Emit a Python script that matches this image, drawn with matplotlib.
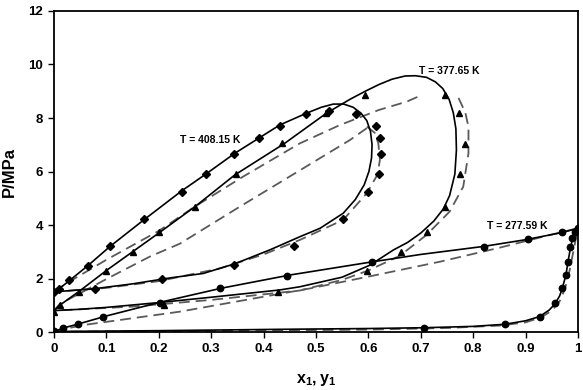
import matplotlib
matplotlib.use("Agg")
import matplotlib.pyplot as plt

plt.rcParams['font.family'] = ['Liberation Sans', 'DejaVu Sans']
plt.rcParams['mathtext.fontset'] = 'custom'
plt.rcParams['mathtext.bf'] = 'Liberation Sans:bold'
plt.rcParams['mathtext.rm'] = 'Liberation Sans'

# ---------------- T = 277.59 K ----------------
exp277_bub_x = [0, 0.018, 0.046, 0.094, 0.202, 0.317, 0.444, 0.607, 0.821, 0.905, 0.970, 1.0]
exp277_bub_p = [0.02, 0.16, 0.31, 0.57, 1.10, 1.63, 2.10, 2.63, 3.19, 3.47, 3.73, 3.88]
exp277_dew_y = [0.706, 0.861, 0.927, 0.956, 0.970, 0.977, 0.980, 0.985, 0.988, 0.994]
exp277_dew_p = [0.16, 0.29, 0.57, 1.07, 1.63, 2.13, 2.63, 3.19, 3.50, 3.75]

m1_277_bub_x = [0, 0.02, 0.05, 0.1, 0.2, 0.32, 0.45, 0.6, 0.7, 0.82, 0.9, 0.97, 1.0]
m1_277_bub_p = [0.02, 0.16, 0.32, 0.6, 1.1, 1.64, 2.13, 2.6, 2.9, 3.2, 3.45, 3.72, 3.88]
m1_277_dew_y = [0, 0.2, 0.43, 0.6, 0.706, 0.8, 0.861, 0.9, 0.927, 0.945, 0.956, 0.965,
                0.97, 0.977, 0.981, 0.986, 0.99, 0.995, 1.0]
m1_277_dew_p = [0.02, 0.05, 0.1, 0.13, 0.16, 0.21, 0.29, 0.42, 0.58, 0.82, 1.05, 1.35,
                1.63, 2.13, 2.63, 3.19, 3.5, 3.72, 3.88]
m2_277_bub_x = [0, 0.056, 0.24, 0.489, 0.6, 0.737, 0.85, 0.947, 1.0]
m2_277_bub_p = [0.03, 0.26, 0.76, 1.63, 2.07, 2.63, 3.15, 3.63, 3.88]
m2_277_dew_y = [0, 0.3, 0.6, 0.75, 0.85, 0.9, 0.93, 0.95, 0.965, 0.975, 0.984, 0.99, 0.996, 1.0]
m2_277_dew_p = [0.01, 0.04, 0.09, 0.15, 0.24, 0.36, 0.55, 0.8, 1.15, 1.6, 2.3, 2.9, 3.5, 3.88]

# ---------------- T = 377.65 K ----------------
exp377_bub_x = [0, 0.011, 0.048, 0.099, 0.151, 0.201, 0.269, 0.347, 0.436, 0.519, 0.594]
exp377_bub_p = [0.75, 1.0, 1.51, 2.28, 3.0, 3.75, 4.69, 5.9, 7.05, 8.18, 8.86]
exp377_dew_y = [0.209, 0.428, 0.597, 0.663, 0.711, 0.747, 0.775, 0.784, 0.773, 0.747]
exp377_dew_p = [1.01, 1.51, 2.29, 3.0, 3.75, 4.68, 5.9, 7.03, 8.18, 8.86]

m1_377_x = [0, 0.011, 0.05, 0.1, 0.15, 0.2, 0.27, 0.345, 0.44, 0.52, 0.565, 0.594, 0.62, 0.645,
            0.67, 0.69, 0.711, 0.728, 0.742, 0.754, 0.762, 0.767, 0.768, 0.765, 0.755, 0.743,
            0.725, 0.70, 0.675, 0.648, 0.603, 0.55, 0.469, 0.43, 0.3, 0.2, 0.1, 0.05, 0]
m1_377_p = [0.8, 1.0, 1.55, 2.3, 3.0, 3.7, 4.7, 5.87, 7.05, 8.18, 8.7, 9.0, 9.25, 9.45,
            9.57, 9.58, 9.52, 9.35, 9.1, 8.7, 8.2, 7.6, 6.8, 5.9, 5.1, 4.6,
            4.15, 3.7, 3.35, 3.07, 2.5, 2.05, 1.69, 1.57, 1.3, 1.1, 0.92, 0.85, 0.8]
m2_377_bub_x = [0, 0.011, 0.05, 0.1, 0.183, 0.24, 0.355, 0.469, 0.565, 0.597]
m2_377_bub_p = [0.8, 1.05, 1.45, 1.98, 2.82, 3.3, 4.69, 6.04, 7.18, 7.62]
m2_377_dew_y = [0.772, 0.785, 0.791, 0.791, 0.781, 0.755, 0.711, 0.66, 0.6, 0.55, 0.469,
                0.3, 0.15, 0]
m2_377_dew_p = [8.75, 8.2, 7.67, 6.68, 5.43, 4.5, 3.63, 2.85, 2.3, 1.95, 1.55,
                1.2, 0.95, 0.8]

# ---------------- T = 408.15 K ----------------
exp408_bub_x = [0, 0.01, 0.029, 0.064, 0.107, 0.172, 0.244, 0.291, 0.344, 0.392, 0.431, 0.481, 0.525]
exp408_bub_p = [1.51, 1.6, 1.94, 2.47, 3.21, 4.21, 5.25, 5.92, 6.65, 7.26, 7.71, 8.15, 8.25]
exp408_dew_y = [0.078, 0.207, 0.344, 0.458, 0.551, 0.6, 0.621, 0.625, 0.623, 0.614, 0.576]
exp408_dew_p = [1.6, 1.97, 2.5, 3.23, 4.21, 5.25, 5.92, 6.65, 7.26, 7.7, 8.14]

m1_408_x = [0, 0.01, 0.03, 0.064, 0.107, 0.172, 0.244, 0.291, 0.345, 0.392, 0.431, 0.482,
            0.51, 0.533, 0.553, 0.571, 0.586, 0.597, 0.604, 0.607, 0.606, 0.601, 0.592,
            0.575, 0.552, 0.508, 0.469, 0.412, 0.345, 0.285, 0.221, 0.15, 0.078, 0]
m1_408_p = [1.5, 1.62, 1.93, 2.47, 3.2, 4.2, 5.28, 5.92, 6.68, 7.26, 7.74, 8.18,
            8.4, 8.52, 8.52, 8.4, 8.18, 7.9, 7.5, 7.0, 6.5, 6.0, 5.5,
            4.95, 4.44, 3.88, 3.56, 3.07, 2.55, 2.19, 2.02, 1.8, 1.62, 1.5]
m2_408_bub_x = [0, 0.024, 0.1, 0.2, 0.269, 0.361, 0.469, 0.546, 0.62, 0.673, 0.695]
m2_408_bub_p = [1.5, 1.82, 2.7, 3.78, 4.69, 5.81, 7.05, 7.74, 8.3, 8.61, 8.8]
m2_408_dew_y = [0.597, 0.612, 0.619, 0.622, 0.617, 0.597, 0.552, 0.469, 0.4, 0.317, 0.2, 0.1, 0]
m2_408_dew_p = [7.68, 7.45, 7.05, 6.43, 5.87, 5.19, 4.19, 3.44, 2.9, 2.38, 1.9, 1.65, 1.5]

labels = ["T = 277.59 K", "T = 377.65 K", "T = 408.15 K"]
label_pos = [(0.885, 3.96), (0.755, 9.77), (0.298, 7.16)]

xticks = [0, 0.1, 0.2, 0.3, 0.4, 0.5, 0.6, 0.7, 0.8, 0.9, 1.0]
xticklabels = ["0", "0.1", "0.2", "0.3", "0.4", "0.5", "0.6", "0.7", "0.8", "0.9", "1"]
yticks = [0, 2, 4, 6, 8, 10, 12]

fig = plt.figure(figsize=(5.83, 3.90), dpi=100)
ax = fig.add_axes([0.0926, 0.1487, 0.8988, 0.8231])

solid = dict(color='black', lw=1.2, zorder=3)
dash = dict(color='#5a5a5a', lw=1.3, dashes=(6, 3.3), zorder=2)

ax.plot(m1_277_bub_x, m1_277_bub_p, **solid)
ax.plot(m1_277_dew_y, m1_277_dew_p, **solid)
ax.plot(m1_377_x, m1_377_p, **solid)
ax.plot(m1_408_x, m1_408_p, **solid)

ax.plot(m2_277_bub_x, m2_277_bub_p, **dash)
ax.plot(m2_277_dew_y, m2_277_dew_p, **dash)
ax.plot(m2_377_bub_x, m2_377_bub_p, **dash)
ax.plot(m2_377_dew_y, m2_377_dew_p, **dash)
ax.plot(m2_408_bub_x, m2_408_bub_p, **dash)
ax.plot(m2_408_dew_y, m2_408_dew_p, **dash)

mk = dict(ls='none', color='black', zorder=4)
ax.plot(exp277_bub_x, exp277_bub_p, marker='o', ms=4.6, **mk)
ax.plot(exp277_dew_y, exp277_dew_p, marker='o', ms=4.6, **mk)
ax.plot(exp377_bub_x, exp377_bub_p, marker='^', ms=5.0, **mk)
ax.plot(exp377_dew_y, exp377_dew_p, marker='^', ms=5.0, **mk)
ax.plot(exp408_bub_x, exp408_bub_p, marker='D', ms=3.6, **mk)
ax.plot(exp408_dew_y, exp408_dew_p, marker='D', ms=3.6, **mk)

for t, (lx, ly) in zip(labels, label_pos):
    ax.text(lx, ly, t, fontsize=7.5, fontweight='bold', ha='center', va='center', zorder=5)

ax.set_xlim(0, 1)
ax.set_ylim(0, 12)
ax.set_xticks(xticks)
ax.set_xticklabels(xticklabels)
ax.set_yticks(yticks)
ax.tick_params(direction='out', length=4, width=1.0, labelsize=9.5, pad=4)
for lab in ax.get_xticklabels() + ax.get_yticklabels():
    lab.set_fontweight('bold')
for s in ax.spines.values():
    s.set_linewidth(1.3)

ax.set_xlabel(r'$\mathbf{x_1, y_1}$', fontsize=11.5, labelpad=12)
ax.set_ylabel('P/MPa', fontsize=12, fontweight='bold', labelpad=8)

fig.savefig('out.png', dpi=100)
